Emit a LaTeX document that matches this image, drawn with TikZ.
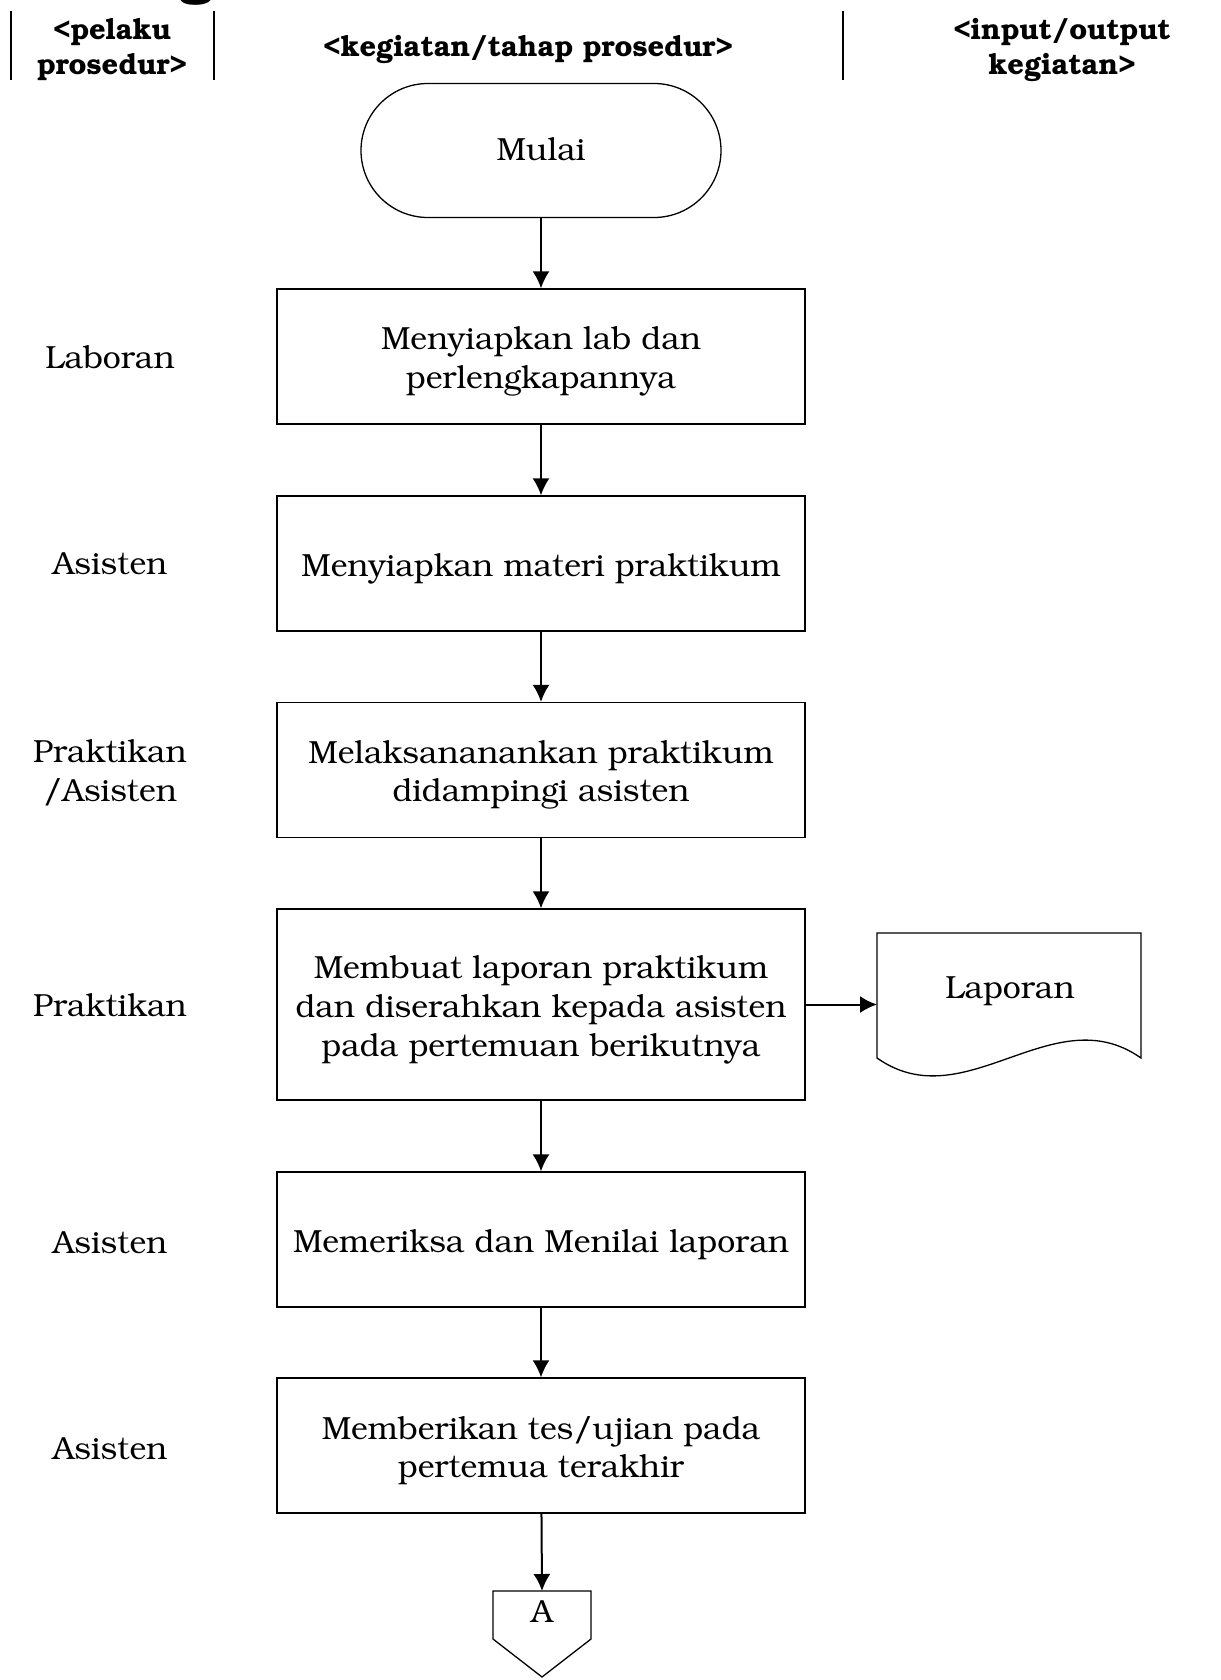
\documentclass[tikz,border=0pt]{standalone}
\usepackage[T1]{fontenc}
\usepackage{bookman}
\usetikzlibrary{arrows.meta}
\newcommand\bodyfont{\fontsize{32}{38.6}\selectfont}
\newcommand\hdrfont{\fontsize{29}{35}\selectfont\bfseries}
\newcommand\boxstrut{\rule{0pt}{33pt}}
\begin{document}
\begin{tikzpicture}[x=1pt,y=-1pt,
  proc/.style={draw, line width=1.3pt, minimum width=528pt, minimum height=135pt, align=center, font=\bodyfont, inner sep=0pt},
  term/.style={draw, line width=1.3pt, rounded corners=67pt, minimum width=360pt, minimum height=134pt, font=\bodyfont, inner sep=0pt},
  lbl/.style={align=center, font=\bodyfont, inner sep=0pt},
  hdr/.style={align=center, font=\hdrfont, inner sep=0pt},
  sep/.style={line width=2.5pt},
  shp/.style={line width=1.3pt},
  arr/.style={-{Latex[length=17pt,width=17pt]}, line width=2pt}]
\useasboundingbox (0,0) rectangle (1220,1680);
% cut-off heading fragment
\node[anchor=base, font=\fontsize{60}{60}\selectfont\bfseries, inner sep=0pt] (frag) at (197,-9) {g};
% header
\draw[sep] (11,11) -- (11,80);
\draw[sep] (214,11) -- (214,80);
\draw[sep] (843,11) -- (843,80);
\node[hdr] (h1) at (112,50) {<pelaku\\prosedur>};
\node[hdr] (h2) at (528,50) {<kegiatan/tahap prosedur>};
\node[hdr] (h3) at (1062,50) {<input/output\\kegiatan>};
% flow
\node[term] (start) at (541,150.5) {\raisebox{1.5pt}{Mulai}};
\node[proc] (b1) at (541,356.5) {\boxstrut Menyiapkan lab dan\\perlengkapannya};
\node[proc] (b2) at (541,563.5) {\boxstrut Menyiapkan materi praktikum};
\node[proc] (b3) at (541,770) {\boxstrut Melaksananankan praktikum\\didampingi asisten};
\node[proc, minimum height=191pt] (b4) at (541,1004.5) {\boxstrut Membuat laporan praktikum\\dan diserahkan kepada asisten\\pada pertemuan berikutnya};
\node[proc] (b5) at (541,1239.5) {\boxstrut Memeriksa dan Menilai laporan};
\node[proc] (b6) at (541,1445.5) {\boxstrut Memberikan tes/ujian pada\\pertemua terakhir};
% actors
\node[lbl] (l1) at (110,357) {Laboran};
\node[lbl] (l2) at (110,563) {Asisten};
\node[lbl] (l3) at (110,773) {Praktikan\\/Asisten};
\node[lbl] (l4) at (110,1005) {Praktikan};
\node[lbl] (l5) at (110,1242) {Asisten};
\node[lbl] (l6) at (110,1448) {Asisten};
% document
\draw[shp] (877,1058) -- (877,933) -- (1141,933) -- (1141,1058)
  .. controls (1053,996) and (965,1120) .. (877,1058) -- cycle;
\node[lbl] (doc) at (1010,991) {Laporan};
\coordinate (docin) at (877,1004.5);
% off-page connector
\draw[shp] (493,1591) -- (591,1591) -- (591,1639) -- (542,1677) -- (493,1639) -- cycle;
\node[lbl] (A) at (542,1611) {A};
\coordinate (Atop) at (542,1591);
% connectors
\draw[arr] (start) -- (b1);
\draw[arr] (b1) -- (b2);
\draw[arr] (b2) -- (b3);
\draw[arr] (b3) -- (b4);
\draw[arr] (b4) -- (b5);
\draw[arr] (b5) -- (b6);
\draw[arr] (b6) -- (Atop);
\draw[arr] (b4.east) -- (docin);
\end{tikzpicture}
\end{document}
